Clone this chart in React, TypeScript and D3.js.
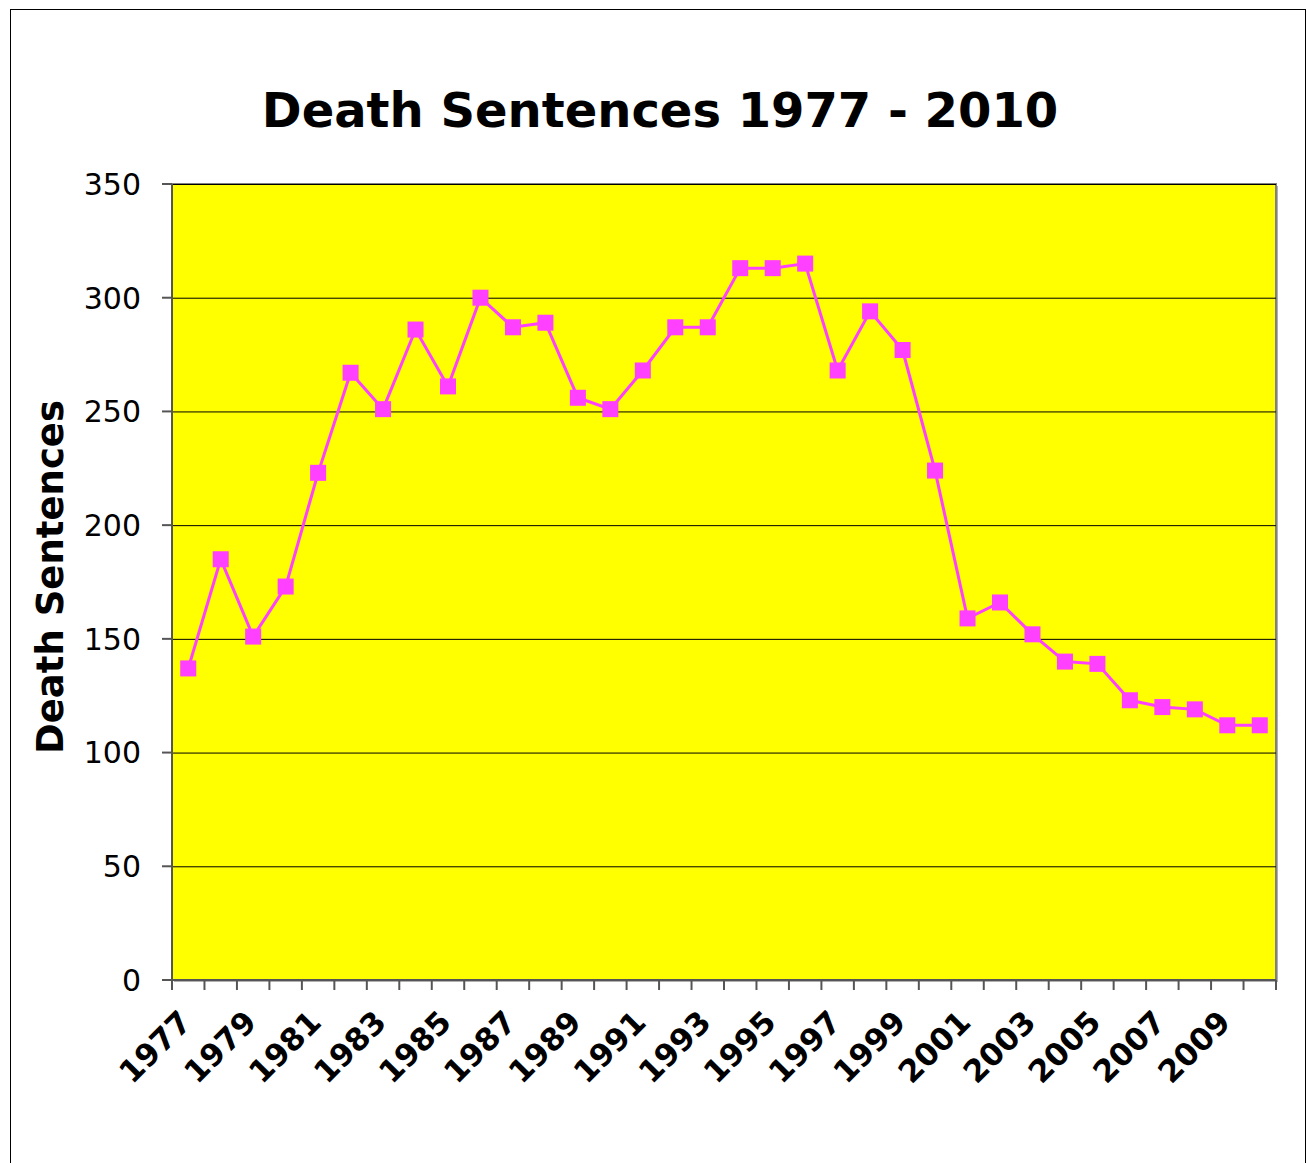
import React from 'react';
import * as d3 from 'd3';

const years = d3.range(1977, 2011).map(String);
const sentences = [
  137, 185, 151, 173, 223, 267, 251, 286, 261, 300, 287, 289, 256, 251, 268, 287, 287,
  313, 313, 315, 268, 294, 277, 224, 159, 166, 152, 140, 139, 123, 120, 119, 112, 112,
];
const yTicks = [0, 50, 100, 150, 200, 250, 300, 350];
const xLabels = years.filter((_, i) => i % 2 === 0);

const font = 'Verdana, "DejaVu Sans", sans-serif';

const App = () => {
  const width = 1307;
  const height = 1163;
  const plot = { left: 172, top: 184, right: 1276, bottom: 980 };

  const x = d3.scaleBand().domain(years).range([plot.left, plot.right]).padding(0);
  const y = d3.scaleLinear().domain([0, 350]).range([plot.bottom, plot.top]);
  const cx = (d: string) => (x(d) as number) + x.bandwidth() / 2;

  const line = d3
    .line<number>()
    .x((_, i) => cx(years[i]))
    .y(d => y(d));

  return (
    <svg width={width} height={height} style={{ position: 'absolute', left: 0, top: 0 }}>
      <rect x={0} y={0} width={width} height={height} fill="#fff" />
      <rect x={10.5} y={9.5} width={1295} height={1170} fill="#fff" stroke="#000" strokeWidth={1} />

      <text x={660} y={127} textAnchor="middle" fontFamily={font} fontWeight="bold" fontSize={48}>
        Death Sentences 1977 - 2010
      </text>

      {/* plot background */}
      <rect x={plot.left + 2} y={plot.top + 2} width={plot.right - plot.left} height={plot.bottom - plot.top} fill="#b0b0b0" />
      <rect x={plot.left} y={plot.top} width={plot.right - plot.left} height={plot.bottom - plot.top} fill="#ffff00" stroke="#808080" strokeWidth={2} />

      {yTicks.slice(1).map(t => (
        <line key={t} x1={plot.left} x2={plot.right} y1={y(t) + 0.5} y2={y(t) + 0.5} stroke="#000" strokeWidth={1} />
      ))}

      {/* y axis */}
      <line x1={plot.left} x2={plot.left} y1={plot.top} y2={plot.bottom} stroke="#555" strokeWidth={2} />
      {yTicks.map(t => (
        <g key={t}>
          <line x1={plot.left - 10} x2={plot.left} y1={y(t)} y2={y(t)} stroke="#555" strokeWidth={2} />
          <text x={141} y={y(t)} dy="0.36em" textAnchor="end" fontFamily={font} fontSize={30}>
            {t}
          </text>
        </g>
      ))}

      {/* x axis */}
      <line x1={plot.left} x2={plot.right} y1={plot.bottom} y2={plot.bottom} stroke="#555" strokeWidth={2} />
      {years.concat(['end']).map((d, i) => {
        const xx = i < years.length ? (x(d) as number) : plot.right;
        return <line key={d} x1={xx} x2={xx} y1={plot.bottom} y2={plot.bottom + 10} stroke="#555" strokeWidth={2} />;
      })}
      {xLabels.map(d => (
        <text
          key={d}
          transform={`translate(${cx(d) + 5},${plot.bottom + 44}) rotate(-45)`}
          textAnchor="end"
          fontFamily={font}
          fontWeight="bold"
          fontSize={31}
        >
          {d}
        </text>
      ))}

      <text
        transform={`translate(63,577) rotate(-90)`}
        textAnchor="middle"
        fontFamily={font}
        fontWeight="bold"
        fontSize={37}
      >
        Death Sentences
      </text>

      <path d={line(sentences) as string} fill="none" stroke="#ff40ff" strokeWidth={3} />
      {sentences.map((v, i) => (
        <rect key={i} x={cx(years[i]) - 8} y={y(v) - 8} width={16} height={16} fill="#ff40ff" />
      ))}
    </svg>
  );
};

export default App;
